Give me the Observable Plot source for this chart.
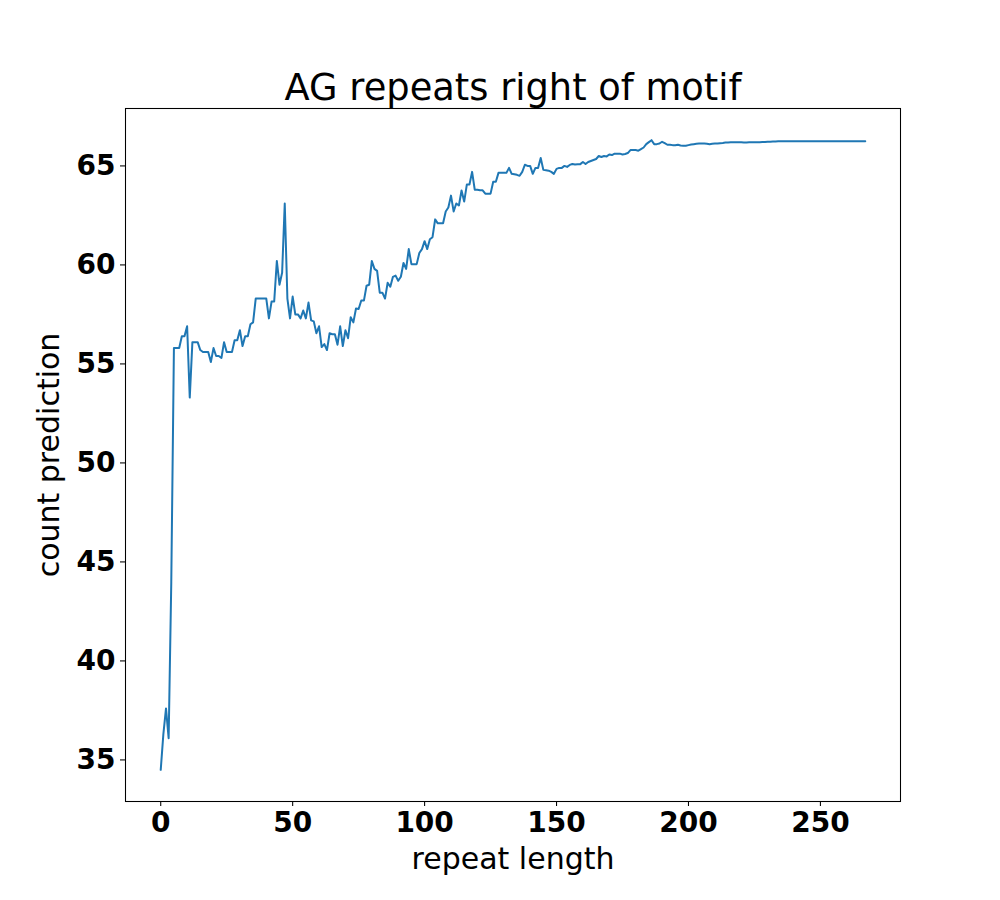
<!DOCTYPE html>
<html>
<head>
<meta charset="utf-8">
<script src="https://cdn.jsdelivr.net/npm/d3@7"></script>
<script src="https://cdn.jsdelivr.net/npm/@observablehq/plot@0.6"></script>
<style>
  html, body { margin: 0; padding: 0; background: #fff; }
</style>
</head>
<body>
<div id="chart"></div>
<script>
// count prediction for repeat length 0, 1, 2, ... (index = repeat length)
const countPrediction = [
  34.5, 36.3, 37.6, 36.1, 44.0, 55.8, 55.8, 55.8, 56.4, 56.4,
  56.9, 53.3, 56.1, 56.1, 56.1, 55.7, 55.6, 55.6, 55.6, 55.1,
  55.8, 55.4, 55.4, 55.3, 56.1, 55.6, 55.6, 55.6, 56.2, 56.2,
  56.7, 55.9, 56.4, 56.4, 57.0, 57.1, 58.3, 58.3, 58.3, 58.3,
  58.3, 57.3, 58.15, 58.15, 60.2, 59.0, 59.6, 63.1, 58.3, 57.3,
  58.4, 57.5, 57.5, 57.3, 57.7, 57.3, 58.1, 57.2, 57.15, 56.55,
  56.9, 55.85, 56.0, 55.7, 56.55, 56.5, 56.5, 55.97, 56.9, 55.9,
  56.7, 56.3, 57.36, 57.1, 57.8, 57.77, 58.2, 58.2, 58.95, 59.0,
  60.2, 59.8, 59.7, 58.6, 58.6, 58.3, 59.1, 58.9, 59.4, 59.46,
  59.2, 59.4, 60.1, 59.8, 60.8, 60.04, 60.04, 60.04, 60.6, 60.8,
  61.2, 60.8, 61.3, 61.4, 62.3, 62.1, 62.1, 62.1, 62.7, 62.9,
  63.5, 62.7, 63.1, 63.0, 63.76, 63.2, 64.06, 64.06, 64.7, 63.8,
  63.8, 63.77, 63.77, 63.6, 63.6, 63.6, 64.2, 64.2, 64.65, 64.65,
  64.65, 64.65, 64.9, 64.6, 64.58, 64.55, 64.5, 64.7, 65.06, 65.0,
  65.0, 64.6, 64.9, 64.9, 65.4, 64.8, 64.78, 64.76, 64.7, 64.6,
  64.85, 64.9, 64.9, 65.0, 64.95, 65.05, 65.1, 65.07, 65.09, 65.09,
  65.2, 65.1, 65.2, 65.25, 65.3, 65.35, 65.5, 65.45, 65.5, 65.48,
  65.58, 65.55, 65.62, 65.62, 65.62, 65.58, 65.6, 65.65, 65.8, 65.8,
  65.8, 65.77, 65.85, 65.93, 66.1, 66.2, 66.3, 66.1, 66.1, 66.13,
  66.22, 66.15, 66.07, 66.07, 66.05, 66.04, 66.07, 66.03, 66.02, 66.02,
  66.05, 66.08, 66.1, 66.12, 66.13, 66.13, 66.13, 66.12, 66.1, 66.12,
  66.13, 66.13, 66.15, 66.16, 66.18, 66.18, 66.19, 66.2, 66.2, 66.2,
  66.19, 66.18, 66.18, 66.19, 66.2, 66.2, 66.2, 66.2, 66.21, 66.21,
  66.22, 66.22, 66.23, 66.23, 66.24, 66.24, 66.24, 66.25, 66.25, 66.25,
  66.25, 66.25, 66.25, 66.25, 66.25, 66.25, 66.25, 66.25, 66.25, 66.25,
  66.25, 66.25, 66.25, 66.25, 66.25, 66.25, 66.25, 66.25, 66.25, 66.25,
  66.25, 66.25, 66.25, 66.25, 66.25, 66.25, 66.25, 66.25
];
const xTicks = [0, 50, 100, 150, 200, 250];
const yTicks = [35, 40, 45, 50, 55, 60, 65];
const titleText = "AG repeats right of motif";
const xLabel = "repeat length";
const yLabel = "count prediction";

const chart = Plot.plot({
  width: 1000,
  height: 900,
  marginLeft: 125,
  marginRight: 100,
  marginTop: 108,
  marginBottom: 99,
  style: { fontFamily: "'DejaVu Sans', sans-serif", background: "white", color: "black" },
  x: { domain: [-13.35, 280.35] },
  y: { domain: [32.9, 67.9] },
  marks: [
    Plot.frame({ stroke: "black", strokeWidth: 1.07 }),
    Plot.axisX({ ticks: xTicks, tickSize: 5, tickPadding: 6, fontSize: 28, fontWeight: "bold", label: null, strokeWidth: 1.07 }),
    Plot.axisY({ ticks: yTicks, tickSize: 5, tickPadding: 5, fontSize: 28, fontWeight: "bold", label: null, strokeWidth: 1.07 }),
    Plot.lineY(countPrediction, { stroke: "#1f77b4", strokeWidth: 2 }),
    Plot.text([titleText], { frameAnchor: "top", textAnchor: "middle", lineAnchor: "middle", dy: -20, fontSize: 36.8 }),
    Plot.text([xLabel], { frameAnchor: "bottom", textAnchor: "middle", lineAnchor: "middle", dy: 57.5, fontSize: 30 }),
    Plot.text([yLabel], { frameAnchor: "left", textAnchor: "middle", lineAnchor: "middle", rotate: -90, dx: -76, fontSize: 30 })
  ]
});
document.getElementById("chart").appendChild(chart);
</script>
</body>
</html>
